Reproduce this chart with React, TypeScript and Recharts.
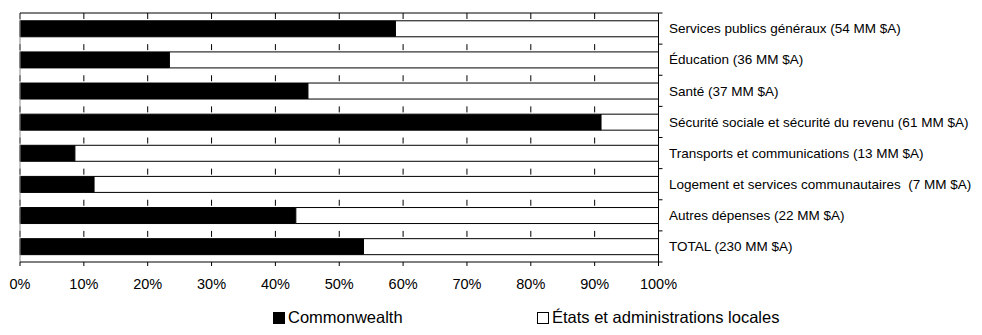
import React from "react"
import {
  BarChart,
  Bar,
  XAxis,
  YAxis,
  CartesianGrid,
  ReferenceLine,
  Legend,
} from "recharts"

const categories = [
  "Services publics généraux (54 MM $A)",
  "Éducation (36 MM $A)",
  "Santé (37 MM $A)",
  "Sécurité sociale et sécurité du revenu (61 MM $A)",
  "Transports et communications (13 MM $A)",
  "Logement et services communautaires  (7 MM $A)",
  "Autres dépenses (22 MM $A)",
  "TOTAL (230 MM $A)",
]

// share of each function's spending, in percent
const commonwealthShare = [58.8, 23.4, 45.1, 91.0, 8.6, 11.6, 43.2, 53.8]
const statesShare = [41.2, 76.6, 54.9, 9.0, 91.4, 88.4, 56.8, 46.2]

const pctTicks = [0, 10, 20, 30, 40, 50, 60, 70, 80, 90, 100]

const SERIES = [
  { key: "commonwealth", label: "Commonwealth", fill: "#000000" },
  { key: "states", label: "États et administrations locales", fill: "#ffffff" },
]

const data = categories.map((name, i) => ({
  name,
  commonwealth: commonwealthShare[i],
  states: statesShare[i],
}))

const FONT = "'Liberation Sans', Arial, sans-serif"

// label at the band centre, small outward tick at the band's upper edge
// (and at the lower edge for the last row)
function CategoryTick({ x, y, payload, index, visibleTicksCount }: any) {
  const half = payload.offset || 0
  const axisX = x - 10.5
  const last = index === visibleTicksCount - 1
  return (
    <g>
      <line x1={axisX} x2={axisX + 4} y1={y - half} y2={y - half} stroke="#000" />
      {last && <line x1={axisX} x2={axisX + 4} y1={y + half} y2={y + half} stroke="#000" />}
      <text
        x={x}
        y={y}
        dy="0.35em"
        textAnchor="start"
        fontSize={13.5}
        fill="#000"
        fontFamily={FONT}
        style={{ whiteSpace: "pre" }}
      >
        {payload.value}
      </text>
    </g>
  )
}

function LegendRow() {
  return (
    <div
      style={{
        display: "flex",
        alignItems: "center",
        paddingLeft: 273,
        paddingTop: 13,
        fontFamily: FONT,
        fontSize: 16.5,
        color: "#000",
      }}
    >
      {SERIES.map((s, i) => (
        <div
          key={s.key}
          style={{ display: "flex", alignItems: "center", width: i === 0 ? 264 : "auto" }}
        >
          <span
            style={{
              display: "inline-block",
              width: 10,
              height: 10,
              background: s.fill,
              border: "1px solid #000",
              marginRight: 3,
            }}
          />
          <span>{s.label}</span>
        </div>
      ))}
    </div>
  )
}

export default function App() {
  return (
    <div style={{ margin: "-8px 0 0 -8px", width: 982, height: 335, background: "#fff" }}>
      <BarChart
        width={982}
        height={335}
        data={data}
        layout="vertical"
        barCategoryGap="25%"
        margin={{ top: 12, right: 0, bottom: 0, left: 20 }}
      >
        {/* short marks hanging from each row boundary at every 10% */}
        <CartesianGrid horizontal={false} stroke="#000" strokeDasharray="6 25.125" />
        <XAxis
          type="number"
          domain={[0, 100]}
          ticks={pctTicks}
          tickFormatter={(v) => `${v}%`}
          height={33}
          tickSize={4}
          tickMargin={13}
          axisLine={{ stroke: "#000" }}
          tickLine={{ stroke: "#000" }}
          tick={{ fill: "#000", fontSize: 14.5, fontFamily: FONT }}
        />
        {/* second x axis only supplies the top border line */}
        <XAxis
          xAxisId="top"
          orientation="top"
          type="number"
          domain={[0, 100]}
          height={1}
          tick={false}
          tickLine={false}
          axisLine={{ stroke: "#000" }}
        />
        <YAxis
          type="category"
          dataKey="name"
          orientation="right"
          width={323.5}
          interval={0}
          axisLine={{ stroke: "#000" }}
          tickLine={false}
          tickSize={0}
          tickMargin={10.5}
          tick={<CategoryTick />}
        />
        <ReferenceLine x={0} stroke="#8c8c8c" />
        {SERIES.map((s) => (
          <Bar
            key={s.key}
            dataKey={s.key}
            name={s.label}
            stackId="share"
            fill={s.fill}
            stroke="#000"
            strokeWidth={1}
            isAnimationActive={false}
          />
        ))}
        <Legend
          verticalAlign="bottom"
          height={40}
          wrapperStyle={{ left: 0, width: 982 }}
          content={() => <LegendRow />}
        />
      </BarChart>
    </div>
  )
}
